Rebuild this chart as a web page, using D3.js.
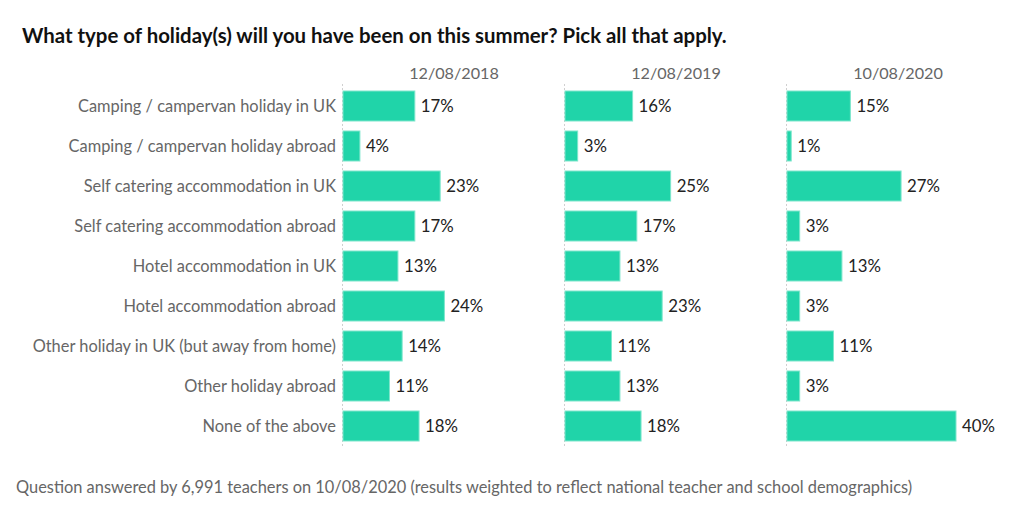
<!DOCTYPE html>
<html>
<head>
<meta charset="utf-8">
<script src="https://cdn.jsdelivr.net/npm/d3@7"></script>
<style>
  html, body { margin: 0; padding: 0; background: #fff; }
  svg { display: block; font-family: Lato, "Open Sans", sans-serif; }
</style>
</head>
<body>
<svg id="chart" width="1024" height="512"></svg>
<script>
const title = "What type of holiday(s) will you have been on this summer? Pick all that apply.";
const footnote = "Question answered by 6,991 teachers on 10/08/2020 (results weighted to reflect national teacher and school demographics)";
const categories = [
  "Camping / campervan holiday in UK",
  "Camping / campervan holiday abroad",
  "Self catering accommodation in UK",
  "Self catering accommodation abroad",
  "Hotel accommodation in UK",
  "Hotel accommodation abroad",
  "Other holiday in UK (but away from home)",
  "Other holiday abroad",
  "None of the above"
];
const dates = ["12/08/2018", "12/08/2019", "10/08/2020"];
const values2018 = [17, 4, 23, 17, 13, 24, 14, 11, 18];
const values2019 = [16, 3, 25, 17, 13, 23, 11, 13, 18];
const values2020 = [15, 1, 27, 3, 13, 3, 11, 3, 40];
const series = [values2018, values2019, values2020];

const svg = d3.select("#chart");

svg.append("text")
  .attr("x", 22).attr("y", 43)
  .attr("font-size", 20.4).attr("font-weight", 700).attr("fill", "#111")
  .text(title);

const y = d3.scaleBand()
  .domain(categories)
  .range([86, 446])
  .paddingInner(0.25)
  .paddingOuter(0.125);

const panelX = d3.scaleBand()
  .domain(dates)
  .range([343, 1009])
  .paddingInner(0)
  .paddingOuter(0);

const x = d3.scaleLinear().domain([0, 40]).range([0, 169]);

// category labels
svg.append("g").selectAll("text")
  .data(categories).join("text")
  .attr("x", 336)
  .attr("y", d => y(d) + y.bandwidth() / 2)
  .attr("dy", "0.35em")
  .attr("text-anchor", "end")
  .attr("font-size", 16.4)
  .attr("fill", "#666")
  .text(d => d);

dates.forEach((date, i) => {
  const g = svg.append("g").attr("transform", `translate(${panelX(date)},0)`);
  const vals = series[i];

  g.append("text")
    .attr("x", panelX.bandwidth() / 2)
    .attr("y", 79)
    .attr("text-anchor", "middle")
    .attr("font-size", 16.2)
    .attr("fill", "#666")
    .text(date);

  g.append("line")
    .attr("x1", -0.5).attr("x2", -0.5)
    .attr("y1", 84).attr("y2", 447)
    .attr("stroke", "#d0d0d0")
    .attr("stroke-width", 1)
    .attr("stroke-dasharray", "2,2");

  g.selectAll("rect")
    .data(categories).join("rect")
    .attr("x", 0)
    .attr("y", d => y(d))
    .attr("width", (d, j) => x(vals[j]))
    .attr("height", y.bandwidth())
    .attr("fill", "#20d4a9")
    .attr("stroke", "#7ee6cc")
    .attr("stroke-width", 1);

  g.selectAll("text.val")
    .data(categories).join("text")
    .attr("class", "val")
    .attr("x", (d, j) => x(vals[j]) + 6)
    .attr("y", d => y(d) + y.bandwidth() / 2)
    .attr("dy", "0.35em")
    .attr("font-size", 16.8)
    .attr("fill", "#222")
    .text((d, j) => vals[j] + "%");
});

svg.append("text")
  .attr("x", 16).attr("y", 493)
  .attr("font-size", 16.4).attr("fill", "#666")
  .text(footnote);
</script>
</body>
</html>
